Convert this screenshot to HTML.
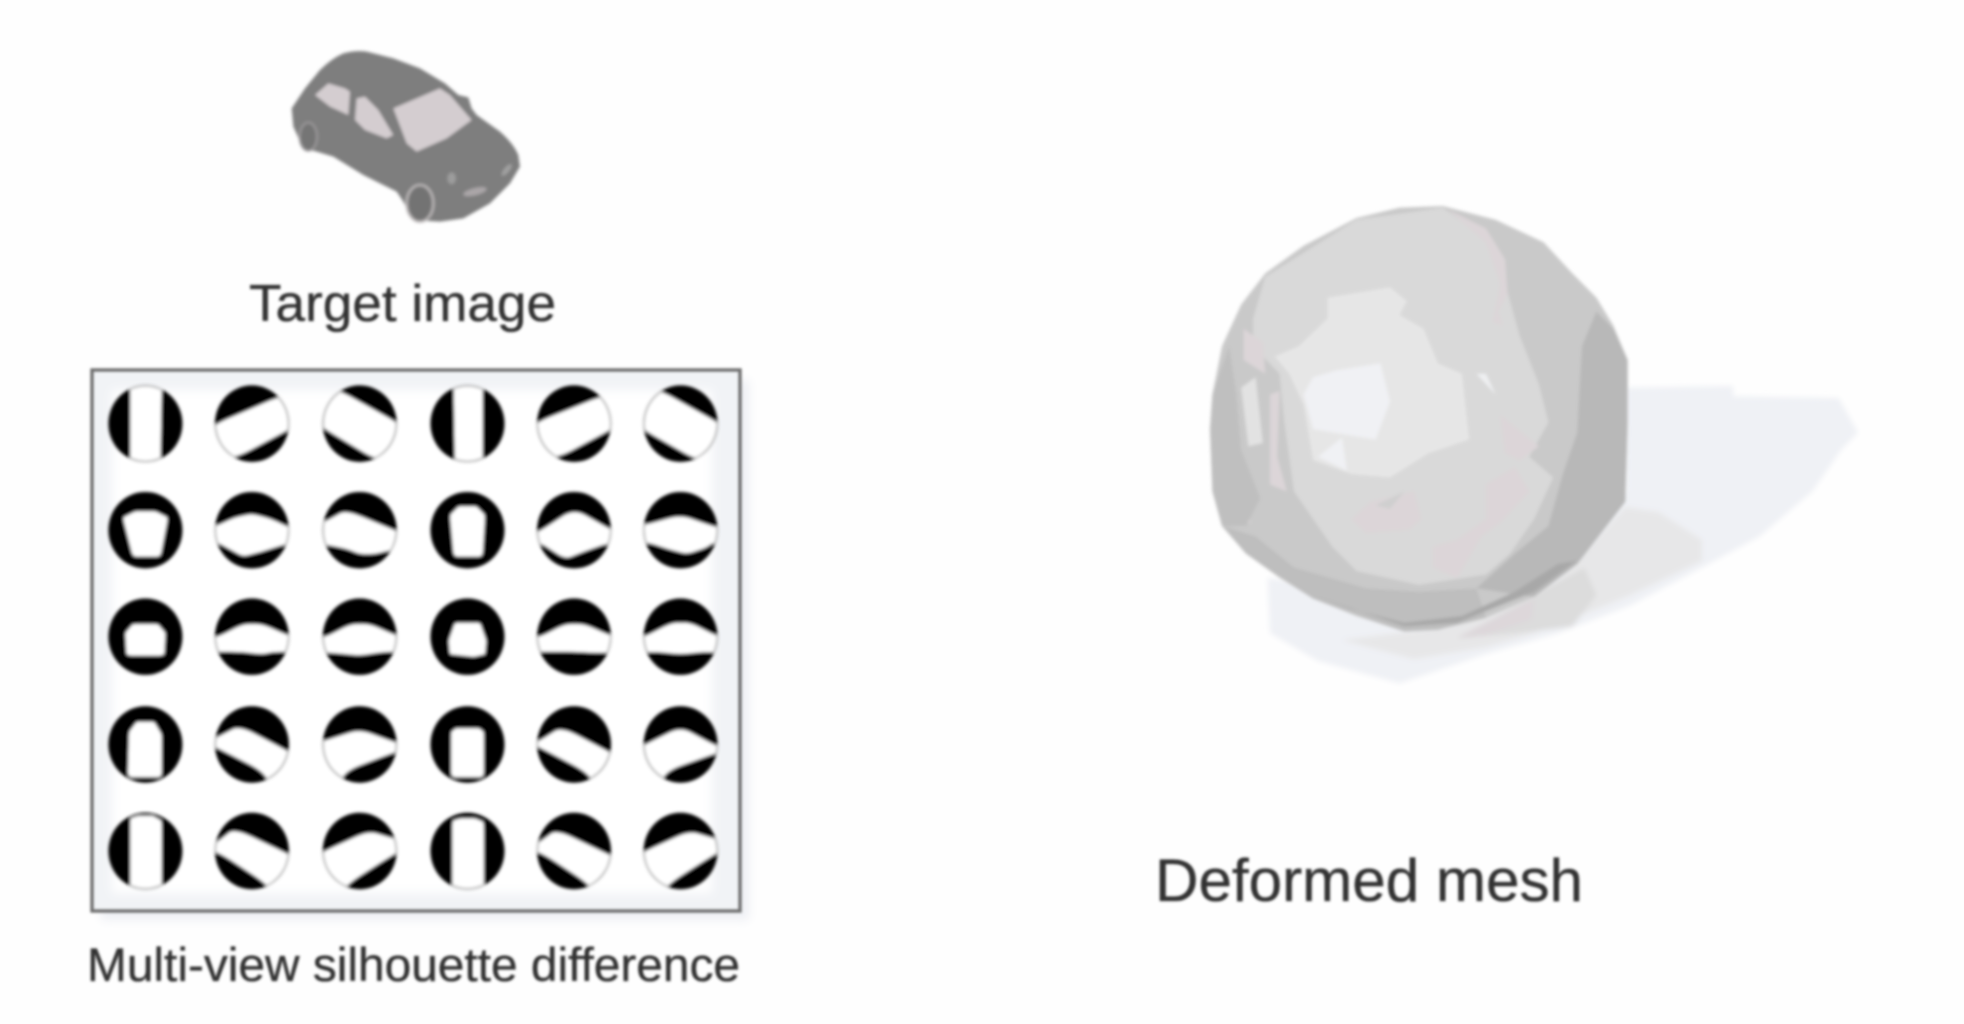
<!DOCTYPE html>
<html lang="en">
<head>
<meta charset="utf-8">
<title>Target image, silhouette difference and deformed mesh</title>
<style>
html,body{margin:0;padding:0;background:#fefefe;width:1964px;height:1024px;overflow:hidden}
svg{display:block}
text{font-family:"Liberation Sans",sans-serif;fill:#333;stroke:#333;stroke-width:.35px}
</style>
</head>
<body>
<svg id="fig" xmlns="http://www.w3.org/2000/svg" width="1964" height="1024" viewBox="0 0 1964 1024">
<defs>
<filter id="b1" filterUnits="userSpaceOnUse" x="0" y="0" width="1964" height="1024"><feGaussianBlur stdDeviation="1.7"/></filter>
<filter id="b2" filterUnits="userSpaceOnUse" x="0" y="0" width="1964" height="1024"><feGaussianBlur stdDeviation="2.6"/></filter>
<filter id="b3" filterUnits="userSpaceOnUse" x="0" y="0" width="1964" height="1024"><feGaussianBlur stdDeviation="5"/></filter>
<filter id="bt" filterUnits="userSpaceOnUse" x="0" y="0" width="1964" height="1024"><feGaussianBlur stdDeviation="1.2"/></filter>
<clipPath id="disc-clip"><ellipse cx="0" cy="0" rx="28.8" ry="29.8"/></clipPath>
</defs>
<rect width="1964" height="1024" fill="#fefefe"/>

<!-- Target car -->
<g filter="url(#b1)">
<g transform="translate(250,20) scale(.3333)">
<path d="M125,265 L165,205 L210,150 Q245,115 280,100 Q320,90 350,95 L430,115 L510,145 L585,190 L625,225 L655,232 L665,265 L680,285 L750,335 Q790,370 805,405 L810,440 L780,490 L720,550 L640,595 L570,605 L490,600 L460,545 L440,515 L340,465 L250,410 L200,395 L160,385 L130,320 Z" fill="#7e7e7e"/>
<polygon points="195,225 235,190 285,205 300,215 295,285 240,260" fill="#d4cdd0"/>
<polygon points="320,235 345,230 385,270 430,345 410,355 345,330 315,300" fill="#d4cdd0"/>
<polygon points="430,265 570,205 600,225 665,300 590,355 500,395 470,370" fill="#d4cdd0"/>
<ellipse cx="510" cy="550" rx="40" ry="55" fill="#737373" stroke="#bdb9ba" stroke-width="7"/>
<ellipse cx="175" cy="350" rx="26" ry="42" fill="#747474" stroke="#9c9a9b" stroke-width="6"/>
<ellipse cx="605" cy="475" rx="13" ry="18" fill="#9c9c9c"/>
<ellipse cx="675" cy="515" rx="36" ry="11" fill="#aaa6a8" transform="rotate(-14 675 515)"/>
<ellipse cx="770" cy="450" rx="8" ry="22" fill="#a0a0a0" transform="rotate(40 770 450)"/>
</g>
</g>
<g filter="url(#bt)">
<text x="249" y="321" font-size="52" textLength="307" lengthAdjust="spacingAndGlyphs">Target image</text>
</g>

<!-- Silhouette panel -->
<g filter="url(#b3)">
<rect x="101" y="380" width="648" height="540" fill="#eef0f4"/>
</g>
<rect x="92" y="370" width="648" height="541" fill="#f1f3f6"/>
<g filter="url(#b3)"><rect x="112" y="390" width="600" height="503" fill="#ffffff"/></g>
<g id="grid" filter="url(#b1)"></g>
<rect x="92" y="370" width="648" height="541" fill="none" stroke="#707070" stroke-width="3.4" filter="url(#bt)"/>
<g filter="url(#bt)">
<text x="87" y="981" font-size="47" textLength="653" lengthAdjust="spacingAndGlyphs">Multi-view silhouette difference</text>
</g>

<!-- Deformed mesh shadow -->
<g filter="url(#b2)">
<g transform="translate(1150,180) scale(.48,.346)">
<polygon fill="#eff1f5" points="990,600 1215,595 1215,625 1435,630 1475,730 1440,780 1380,900 1270,1030 1150,1120 1000,1230 850,1310 700,1370 520,1455 350,1390 250,1310 245,1150 500,1200 990,900"/>
<polygon fill="#e7e7e8" points="990,945 1060,960 1150,1040 1150,1100 1000,1200 930,1240 800,1310 700,1350 550,1385 400,1330 620,1290 850,1150"/>
<polygon fill="#dcdcdc" points="905,1120 930,1200 880,1290 760,1310 640,1325 800,1200"/>
<polygon fill="#ddd7da" points="800,1210 795,1270 700,1315 640,1322"/>
</g>
</g>

<!-- Deformed mesh -->
<g filter="url(#b1)">
<g transform="translate(1150,180) scale(.48,.346)">
<polygon fill="#c9c9c9" points="130,620 150,480 190,360 240,270 320,190 430,110 520,80 610,75 720,115 820,180 880,270 930,340 965,420 995,520 995,700 990,930 940,1020 890,1110 800,1205 700,1265 600,1300 530,1305 430,1260 340,1210 270,1150 200,1080 150,1000 130,900 125,720"/>
<polygon fill="#d9d9d9" points="215,400 240,280 430,115 610,80 700,170 740,300 770,450 810,590 830,700 790,800 840,860 800,980 750,1080 700,1140 560,1170 430,1130 380,1060 300,900 280,700 270,560 215,480"/>
<polygon fill="#e6e6e6" points="370,340 500,310 535,350 520,390 570,430 600,530 650,560 665,750 580,790 500,860 420,850 340,810 320,650 290,560 260,510 310,480 370,400"/>
<polygon fill="#f0f1f4" points="340,570 390,550 480,530 500,640 470,750 340,720 320,620"/>
<polygon fill="#f0f1f4" points="350,800 400,745 410,840"/>
<polygon fill="#eeeff1" points="680,560 700,560 720,620"/>
<polygon fill="#e2e2e2" points="190,600 220,570 235,760 205,770"/>
<polygon fill="#dcd5d8" points="620,85 700,140 740,230 745,330 725,380 735,420 715,410 730,300 700,180"/>
<polygon fill="#dcd5d8" points="730,680 810,770 770,810 740,790"/>
<polygon fill="#dcd5d8" points="700,880 760,830 790,900 730,990 690,1030 640,1150 590,1120 590,1060 640,1040 700,980"/>
<polygon fill="#dcd5d8" points="420,980 460,930 550,900 565,980 540,1010 450,1020"/>
<polygon fill="#cfcfcf" points="470,940 530,900 500,950"/>
<polygon fill="#dcd5d8" points="195,430 235,470 240,560 195,520"/>
<polygon fill="#dcd5d8" points="250,620 270,610 265,800 285,900 250,880"/>
<polygon fill="#dcd5d8" points="130,880 190,930 210,990 160,990"/>
<polygon fill="#b8b8b8" points="930,380 965,430 995,520 995,700 990,930 890,1110 800,1205 680,1180 760,1080 830,1000 860,850 890,730 895,600 900,480"/>
<polygon fill="#bebebe" points="150,1000 220,1030 300,1120 450,1180 560,1190 680,1180 700,1265 600,1300 530,1305 340,1210 200,1080"/>
<polygon fill="#a8a8a8" points="340,1200 530,1290 640,1280 800,1190 890,1100 850,1110 760,1190 650,1260 530,1280 420,1240"/>
<polygon fill="#bfbfbf" points="130,620 165,480 180,620 190,780 230,920 200,1000 150,1000 130,900 125,720"/>
</g>
</g>
<g filter="url(#bt)">
<text x="1155" y="901" font-size="60" textLength="428" lengthAdjust="spacingAndGlyphs">Deformed mesh</text>
</g>
</svg>
<script>
var columnCenters = [116, 201, 287, 373, 458, 543];
var rowCenters = [338, 423, 508, 594, 679];
var silhouetteGaps = [
  ["-12,-32 13,-32 12,32 -12,32", "-40,5 32,-26 42,-2 -20,31", "-26,-32 42,6 20,33 -40,-3", "-11,-32 12,-32 12,32 -10,32", "-40,3 32,-26 42,-2 -20,31", "-26,-32 42,6 20,33 -40,-1"],
  ["-18,-10 -8,-15 8,-15 18,-10 12,21 -10,21", "-40,-3 -29,-3 -14,-10 0,-13 15,-9 30,-2 40,0 40,10 27,11 8,17 -7,21 -18,15 -27,10 -40,10", "-40,-3 -27,-7 -11,-16 30,1 40,6 40,14 24,16 12,19 0,19 -10,15 -24,12 -40,10", "-14,-12 -7,-19 7,-19 14,-12 12,21 -11,21", "-40,4 -29,2 0,-17 30,0 40,3 40,10 25,11 8,17 -7,23 -27,10 -40,10", "-40,-4 -29,-4 0,-12 29,-2 40,-2 40,10 26,10 20,14 5,19 -10,15 -25,10 -40,10"],
  ["-16,-3 -10,-10 10,-10 16,-3 15,15 -15,15", "-40,2 -27,0 -7,-10 8,-10 29,-1 40,2 40,12 18,12 8,14 -10,12 -40,12", "-40,2 -27,0 -7,-10 8,-10 29,-1 40,2 40,12 20,12 0,15 -20,13 -40,12", "-15,3 -10,-11 10,-11 15,3 14,14 5,16 -14,14", "-40,2 -27,0 -7,-10 8,-10 29,-1 40,2 40,12 20,13 0,12 -20,12 -40,12", "-40,2 -29,0 -7,-11 8,-11 28,-1 40,2 40,13 20,12 0,14 -20,12 -40,13"],
  ["-13,-10 -7,-18 7,-18 13,-8 13,26 -14,26", "-40,0 -29,-5 -10,-15 30,6 40,14 40,40 20,40 8,21 -27,3 -40,-3", "-40,0 -28,-3 0,-12 30,-1 40,1 40,3 28,6 -11,21 -20,40 -40,30", "-13,-10 -9,-13 9,-13 13,-10 13,26 -13,26", "-40,0 -29,-2 -10,-14 30,7 40,14 40,40 22,40 10,22 -28,2 -40,-3", "-40,6 -30,1 0,-14 28,1 40,4 40,4 28,7 -11,21 -20,40 -40,30"],
  ["-12,-26 -6,-28 6,-28 13,-24 13,32 -12,32", "-40,0 -29,-6 -14,-18 30,3 42,10 40,40 22,40 10,25 -25,2 -40,-2", "-40,8 -28,0 7,-16 30,-9 40,-8 40,-4 28,2 -8,25 -20,40 -40,30", "-12,-24 -6,-26 6,-26 13,-23 13,32 -12,32", "-40,0 -29,-6 -14,-17 30,4 42,10 40,40 22,40 10,25 -25,2 -40,-2", "-40,8 -28,0 7,-16 30,-9 40,-8 40,-4 28,2 -8,25 -20,40 -40,30"]
];

var svgNS = 'http://www.w3.org/2000/svg';
var grid = document.getElementById('grid');
var scale = 1964 / 1567;

function roundedPath(pointString, f) {
  var pts = pointString.split(' ').map(function (p) { return p.split(',').map(Number); });
  var n = pts.length;
  var d = '';
  for (var i = 0; i < n; i++) {
    var p = pts[i];
    var prev = pts[(i + n - 1) % n];
    var next = pts[(i + 1) % n];
    var ax = p[0] + (prev[0] - p[0]) * f;
    var ay = p[1] + (prev[1] - p[1]) * f;
    var bx = p[0] + (next[0] - p[0]) * f;
    var by = p[1] + (next[1] - p[1]) * f;
    d += (i === 0 ? 'M' : 'L') + ax + ',' + ay + ' Q' + p[0] + ',' + p[1] + ' ' + bx + ',' + by + ' ';
  }
  return d + 'Z';
}

rowCenters.forEach(function (cy, r) {
  columnCenters.forEach(function (cx, c) {
    var cell = document.createElementNS(svgNS, 'g');
    
    
    cell.setAttribute('transform', 'translate(' + (cx * scale) + ',' + (cy * scale) + ') scale(' + scale + ')');
    var disc = document.createElementNS(svgNS, 'ellipse');
    
    
    disc.setAttribute('rx', '29.5');
    disc.setAttribute('ry', '30.5');
    disc.setAttribute('fill', '#000');
    var gap = document.createElementNS(svgNS, 'path');
    
    
    gap.setAttribute('d', roundedPath(silhouetteGaps[r][c], c % 3 === 0 ? 0.12 : 0.3));
    gap.setAttribute('fill', '#fff');
    gap.setAttribute('clip-path', 'url(#disc-clip)');
    cell.appendChild(disc);
    cell.appendChild(gap);
    grid.appendChild(cell);
  });
});
</script>
</body>
</html>
